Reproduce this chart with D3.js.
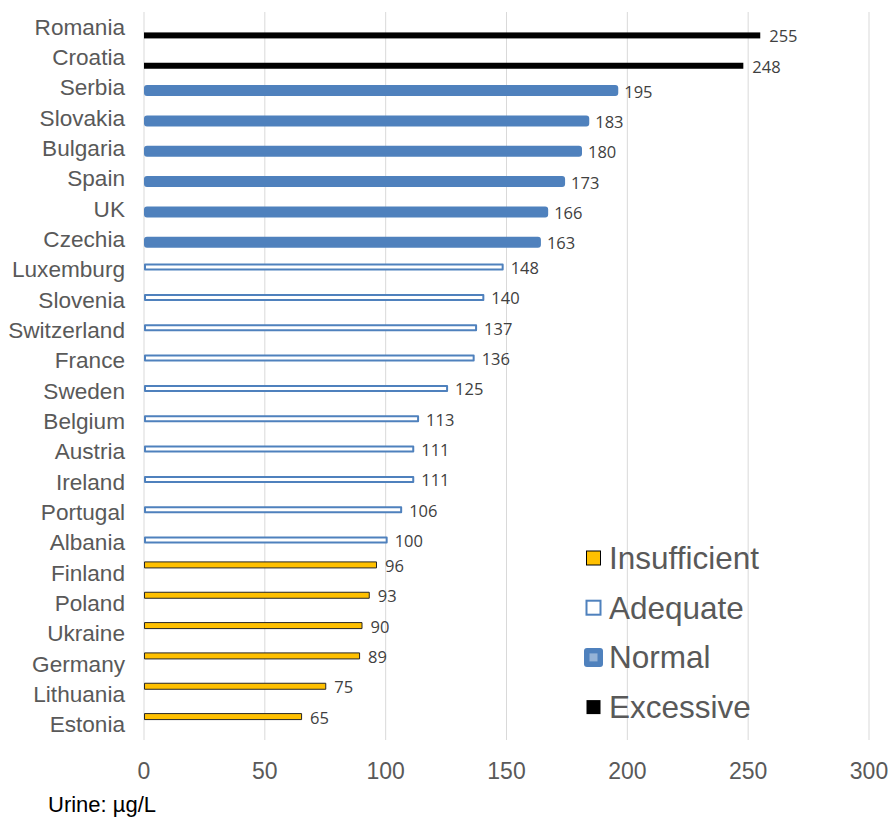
<!DOCTYPE html>
<html>
<head>
<meta charset="utf-8">
<script src="https://cdn.jsdelivr.net/npm/d3@7"></script>
<style>
  body { margin: 0; background: #fff; }
  text { font-family: "Liberation Sans", Arial, sans-serif; }
</style>
</head>
<body>
<svg id="chart" width="889" height="817"></svg>
<script>
var countries = ["Romania", "Croatia", "Serbia", "Slovakia", "Bulgaria", "Spain", "UK", "Czechia",
  "Luxemburg", "Slovenia", "Switzerland", "France", "Sweden", "Belgium", "Austria", "Ireland",
  "Portugal", "Albania", "Finland", "Poland", "Ukraine", "Germany", "Lithuania", "Estonia"];
var values = [255, 248, 195, 183, 180, 173, 166, 163,
  148, 140, 137, 136, 125, 113, 111, 111,
  106, 100, 96, 93, 90, 89, 75, 65];
var levels = ["Excessive", "Excessive", "Normal", "Normal", "Normal", "Normal", "Normal", "Normal",
  "Adequate", "Adequate", "Adequate", "Adequate", "Adequate", "Adequate", "Adequate", "Adequate",
  "Adequate", "Adequate", "Insufficient", "Insufficient", "Insufficient", "Insufficient", "Insufficient", "Insufficient"];
var seriesNames = ["Insufficient", "Adequate", "Normal", "Excessive"];
var xTicks = [0, 50, 100, 150, 200, 250, 300];

var data = countries.map((c, i) => ({ country: c, value: values[i], level: levels[i] }));

var margin = { top: 12, left: 144, right: 20, bottom: 77 };
var svg = d3.select("#chart");

var x = d3.scaleLinear().domain([0, 300]).range([margin.left, 869]);
var y = d3.scaleBand().domain(countries).range([margin.top, 740]);
var sub = d3.scaleBand().domain(seriesNames).range([-11, 11]);

var style = {
  Excessive: { h: 6, fill: "#000", stroke: "none", sw: 0, rx: 0 },
  Normal: { h: 8, fill: "#4f81bd", stroke: "#4f81bd", sw: 3, rx: 1.5 },
  Adequate: { h: 5, fill: "#fff", stroke: "#4f81bd", sw: 2, rx: 0 },
  Insufficient: { h: 6, fill: "#ffc000", stroke: "#262626", sw: 1, rx: 0 }
};

// gridlines
svg.append("g").selectAll("line").data(xTicks).join("line")
  .attr("x1", d => x(d)).attr("x2", d => x(d))
  .attr("y1", margin.top).attr("y2", 740)
  .attr("stroke", "#d9d9d9").attr("stroke-width", 1);

// tick labels
svg.append("g").selectAll("text").data(xTicks).join("text")
  .attr("x", d => x(d)).attr("y", 779)
  .attr("text-anchor", "middle")
  .style("font-size", "23px").attr("fill", "#595959")
  .text(d => d);

// category labels
svg.append("g").selectAll("text").data(countries).join("text")
  .attr("x", 125).attr("y", d => y(d) + y.bandwidth() / 2 + 7.5)
  .attr("text-anchor", "end")
  .style("font-size", "22.6px").attr("fill", "#595959")
  .text(d => d);

function barCenter(d) {
  return y(d.country) + y.bandwidth() / 2 + sub(d.level) + sub.bandwidth() / 2;
}

// bars
svg.append("g").selectAll("rect").data(data).join("rect")
  .attr("x", d => x(0) + style[d.level].sw / 2)
  .attr("y", d => barCenter(d) - style[d.level].h / 2)
  .attr("width", d => x(d.value) - x(0))
  .attr("height", d => style[d.level].h)
  .attr("rx", d => style[d.level].rx)
  .attr("fill", d => style[d.level].fill)
  .attr("stroke", d => style[d.level].stroke)
  .attr("stroke-width", d => style[d.level].sw)
  .attr("stroke-linejoin", "round");

// data labels
svg.append("g").selectAll("text").data(data).join("text")
  .attr("x", d => x(d.value) + 9)
  .attr("y", d => barCenter(d) + 7)
  .style("font-size", "16.5px").attr("fill", "#404040")
  .style("font-family", "'Open Sans', 'DejaVu Sans', sans-serif")
  .text(d => d.value);

// axis title
svg.append("text").attr("x", 48).attr("y", 812)
  .style("font-size", "22px").attr("fill", "#000")
  .text("Urine: µg/L");

// legend
var legend = svg.append("g").attr("transform", "translate(586,558)");
var item = legend.selectAll("g").data(seriesNames).join("g")
  .attr("transform", (d, i) => `translate(0,${i * 49.7})`);
item.each(function (d) {
  var g = d3.select(this);
  if (d === "Insufficient") {
    g.append("rect").attr("x", 0.5).attr("y", -7).attr("width", 14).attr("height", 14)
      .attr("fill", "#ffc000").attr("stroke", "#000").attr("stroke-width", 1);
  } else if (d === "Adequate") {
    g.append("rect").attr("x", 0.5).attr("y", -7).attr("width", 14).attr("height", 14)
      .attr("fill", "#fff").attr("stroke", "#4f81bd").attr("stroke-width", 2);
  } else if (d === "Normal") {
    g.append("rect").attr("x", -2).attr("y", -9.5).attr("width", 19).attr("height", 19).attr("rx", 3)
      .attr("fill", "#4f81bd");
    g.append("rect").attr("x", 3.5).attr("y", -4).attr("width", 8).attr("height", 8)
      .attr("fill", "#95b3d7");
  } else {
    g.append("rect").attr("x", 0.5).attr("y", -7).attr("width", 14).attr("height", 14)
      .attr("fill", "#000");
  }
  g.append("text").attr("x", 23).attr("y", 11)
    .style("font-size", "31.5px").attr("fill", "#595959")
    .text(d);
});
</script>
</body>
</html>
